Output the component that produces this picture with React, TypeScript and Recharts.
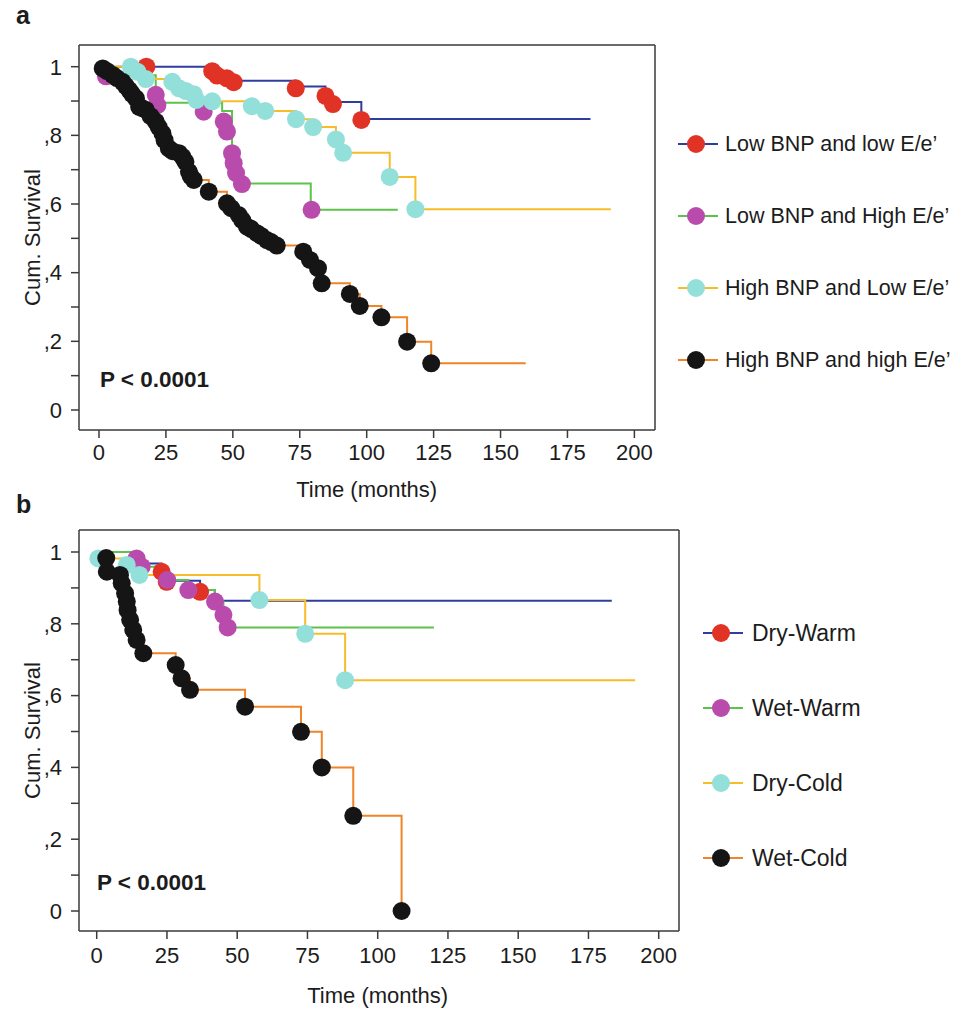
import React from "react";
import { ComposedChart, Legend, Line, Scatter, XAxis, YAxis } from "recharts";

type Pt = [number, number];

const timeTicks = [0, 25, 50, 75, 100, 125, 150, 175, 200];
const survivalTicks = [0, 0.1, 0.2, 0.3, 0.4, 0.5, 0.6, 0.7, 0.8, 0.9, 1];

// ---- panel a: BNP x E/e' ----
const namesA = [
  "Low BNP and low E/e’",
  "Low BNP and High E/e’",
  "High BNP and Low E/e’",
  "High BNP and high E/e’",
];

const lowLowSteps: Pt[] = [
  [0, 1], [42.3, 0.987], [44.1, 0.974], [47.8, 0.968], [50.3, 0.959], [73.5, 0.942],
  [84.6, 0.913], [87.4, 0.897], [98, 0.848], [183.6, 0.848],
];
const lowLowMarks: Pt[] = [
  [17.7, 1.0], [42.3, 0.987], [44.1, 0.974], [47.8, 0.966], [50.3, 0.955],
  [73.5, 0.937], [84.6, 0.915], [87.4, 0.891], [98, 0.845],
];

const lowHighSteps: Pt[] = [
  [0, 1], [2.6, 0.975], [21.2, 0.918], [21.8, 0.895], [46, 0.871], [49.7, 0.748],
  [50.3, 0.717], [51.3, 0.688], [53.4, 0.66], [79.1, 0.583], [111.6, 0.583],
];
const lowHighMarks: Pt[] = [
  [2.6, 0.972], [21.2, 0.918], [21.8, 0.888], [39.1, 0.869], [46.6, 0.84], [47.8, 0.811],
  [49.7, 0.748], [50.3, 0.719], [51.2, 0.69], [53.4, 0.658], [79.4, 0.583],
];

const highLowMarks: Pt[] = [
  [11.9, 1.0], [14.4, 0.985], [17.5, 0.964], [27.4, 0.956], [29.9, 0.937], [32.5, 0.929],
  [35.4, 0.92], [36.4, 0.903], [42.3, 0.899], [57.1, 0.885], [62.1, 0.871], [73.6, 0.847],
  [80, 0.824], [88.5, 0.788], [91.2, 0.749], [108.6, 0.679], [118.2, 0.585],
];
const highLowEnd = 191.2;

const highHighMarks: Pt[] = [
  [1.4, 0.995], [3, 0.987], [5.1, 0.976], [6.7, 0.967], [8.8, 0.956], [10, 0.944],
  [11.3, 0.932], [12.3, 0.921], [13.8, 0.908], [15, 0.883], [16, 0.88], [17.5, 0.874],
  [19.3, 0.856], [21.2, 0.84], [22.3, 0.824], [23.7, 0.806], [24.5, 0.786], [26.1, 0.762],
  [27.5, 0.754], [29.9, 0.748], [31.2, 0.737], [32.3, 0.723], [33.6, 0.694], [34.2, 0.682],
  [35.4, 0.67], [41, 0.636], [47.8, 0.602], [49.4, 0.588], [52.2, 0.568], [53.5, 0.553],
  [55.3, 0.534], [56.9, 0.527], [59, 0.515], [60.6, 0.507], [62.7, 0.495], [64.3, 0.489],
  [66.4, 0.479], [76.3, 0.461], [78.8, 0.437], [81.8, 0.413], [83.2, 0.369], [93.7, 0.338],
  [97.4, 0.303], [105.5, 0.27], [115.1, 0.199], [124.1, 0.136],
];
const highHighEnd = 159.4;

// ---- panel b: clinical profiles ----
const namesB = ["Dry-Warm", "Wet-Warm", "Dry-Cold", "Wet-Cold"];

const dryWarmSteps: Pt[] = [
  [0, 1], [15, 0.968], [23.1, 0.945], [24.9, 0.92], [36.8, 0.894], [42, 0.864], [183.3, 0.864],
];
const dryWarmMarks: Pt[] = [[23.1, 0.945], [24.9, 0.917], [36.8, 0.889]];

const wetWarmMarks: Pt[] = [
  [14.2, 0.982], [16, 0.959], [25.1, 0.922], [32.6, 0.894], [42.1, 0.862], [45.1, 0.825], [46.6, 0.79],
];
const wetWarmEnd = 120;

const dryColdMarks: Pt[] = [
  [0.6, 0.982], [10.7, 0.964], [15.2, 0.936], [57.9, 0.866], [74.2, 0.772], [88.4, 0.643],
];
const dryColdEnd = 191.6;

const wetColdMarks: Pt[] = [
  [3.4, 0.983], [3.6, 0.945], [8.3, 0.936], [8.9, 0.913], [10.1, 0.885], [10.7, 0.862],
  [11, 0.838], [11.9, 0.811], [13, 0.783], [14.2, 0.755], [16.6, 0.718], [28.1, 0.685],
  [30.2, 0.648], [33.2, 0.616], [52.8, 0.569], [72.7, 0.499], [80.1, 0.4], [91.3, 0.265],
  [108.5, 0],
];
const wetColdEnd = 108.5;

const FONT = '"Liberation Sans", Arial, Helvetica, sans-serif';
const INK = "#1c1c1c";
const AXIS = "#3a3a3a";
const TEXT = 22;

const palette = [
  { line: "#2f3e9e", dot: "#e03326" },
  { line: "#5cc24c", dot: "#b94bad" },
  { line: "#f7bd28", dot: "#93dfd9" },
  { line: "#f08429", dot: "#151515" },
];

function stepsFrom(marks: Pt[], end: number): Pt[] {
  return [[0, 1], ...marks, [end, marks[marks.length - 1][1]]];
}

const rows = (pts: Pt[]) => pts.map(([t, s]) => ({ t, s }));

function survivalLabel(v: number) {
  const tenths = Math.round(v * 10);
  if (tenths % 2 !== 0) return "";
  if (tenths === 0) return "0";
  if (tenths === 10) return "1";
  return "," + tenths;
}

type Series = { name: string; steps: Pt[]; marks: Pt[]; line: string; dot: string };

const seriesA: Series[] = [
  { name: namesA[0], steps: lowLowSteps, marks: lowLowMarks, ...palette[0] },
  { name: namesA[1], steps: lowHighSteps, marks: lowHighMarks, ...palette[1] },
  { name: namesA[2], steps: stepsFrom(highLowMarks, highLowEnd), marks: highLowMarks, ...palette[2] },
  { name: namesA[3], steps: stepsFrom(highHighMarks, highHighEnd), marks: highHighMarks, ...palette[3] },
];

const seriesB: Series[] = [
  { name: namesB[0], steps: dryWarmSteps, marks: dryWarmMarks, ...palette[0] },
  { name: namesB[1], steps: stepsFrom(wetWarmMarks, wetWarmEnd), marks: wetWarmMarks, ...palette[1] },
  { name: namesB[2], steps: stepsFrom(dryColdMarks, dryColdEnd), marks: dryColdMarks, ...palette[2] },
  { name: namesB[3], steps: stepsFrom(wetColdMarks, wetColdEnd), marks: wetColdMarks, ...palette[3] },
];

function YTitle({ viewBox, x }: any) {
  const cy = viewBox.y + viewBox.height / 2;
  return (
    <text x={x} y={cy} transform={`rotate(-90 ${x} ${cy})`} textAnchor="middle"
      fontSize={TEXT} fontFamily={FONT} fill={INK}>
      Cum. Survival
    </text>
  );
}

function XTitle({ viewBox, domain, dy }: any) {
  // centred on the 0–200 month range, not on the whole box
  const cx = viewBox.x + ((100 - domain[0]) / (domain[1] - domain[0])) * viewBox.width;
  return (
    <text x={cx} y={viewBox.y + dy} textAnchor="middle" fontSize={TEXT} fontFamily={FONT} fill={INK}>
      Time (months)
    </text>
  );
}

type PanelProps = {
  series: Series[];
  top: number;
  height: number;
  marginTop: number;
  marginRight: number;
  xAxisHeight: number;
  xTickMargin: number;
  titleDy: number;
  xDomain: [number, number];
  yDomain: [number, number];
  legend: { left: number; top: number; row: number; gap: number; fontSize: number; width: number };
};

function KmPanel(p: PanelProps) {
  const line = { stroke: AXIS, strokeWidth: 1.5 };
  const renderLegend = () => (
    <div style={{ fontFamily: FONT, color: INK }}>
      {p.series.map((s) => (
        <div key={s.name} style={{ height: p.legend.row, display: "flex", alignItems: "center" }}>
          <svg width={40} height={20} style={{ flex: "none" }}>
            <line x1={0} x2={40} y1={10} y2={10} stroke={s.line} strokeWidth={2} />
            <circle cx={18} cy={10} r={9} fill={s.dot} />
          </svg>
          <span style={{ marginLeft: p.legend.gap, fontSize: p.legend.fontSize, whiteSpace: "nowrap" }}>
            {s.name}
          </span>
        </div>
      ))}
    </div>
  );

  return (
    <div style={{ position: "absolute", left: 0, top: p.top }}>
      <ComposedChart width={966} height={p.height}
        margin={{ top: p.marginTop, right: p.marginRight, bottom: 0, left: 0 }}>
        <XAxis xAxisId="bottom" dataKey="t" type="number" domain={p.xDomain} allowDataOverflow
          ticks={timeTicks} interval={0} height={p.xAxisHeight} tickSize={8} tickMargin={p.xTickMargin}
          axisLine={line} tickLine={line}
          tick={{ fill: INK, fontSize: TEXT, fontFamily: FONT }}
          label={<XTitle domain={p.xDomain} dy={p.titleDy} />} />
        <XAxis xAxisId="top" orientation="top" type="number" domain={p.xDomain} allowDataOverflow
          ticks={timeTicks} interval={0} height={10} tickSize={8} tick={false}
          axisLine={line} tickLine={line} />
        <YAxis yAxisId="left" dataKey="s" type="number" domain={p.yDomain} allowDataOverflow
          ticks={survivalTicks} interval={0} width={79} tickSize={8} tickMargin={9}
          tickFormatter={survivalLabel} axisLine={line} tickLine={line}
          tick={{ fill: INK, fontSize: TEXT, fontFamily: FONT }}
          label={<YTitle x={25} />} />
        <YAxis yAxisId="right" orientation="right" type="number" domain={p.yDomain} allowDataOverflow
          ticks={survivalTicks} interval={0} width={10} tickSize={8} tick={false}
          axisLine={line} tickLine={line} />
        {p.series.map((s) => (
          <Line key={"l" + s.name} xAxisId="bottom" yAxisId="left" data={rows(s.steps)} dataKey="s"
            type="stepAfter" stroke={s.line} strokeWidth={2} dot={false} activeDot={false}
            legendType="none" isAnimationActive={false} />
        ))}
        {p.series.map((s) => (
          <Scatter key={"m" + s.name} xAxisId="bottom" yAxisId="left" data={rows(s.marks)} dataKey="s"
            fill={s.dot} legendType="none" isAnimationActive={false}
            shape={(d: any) => <circle cx={d.cx} cy={d.cy} r={9} fill={s.dot} />} />
        ))}
        <Legend layout="vertical" align="center" verticalAlign="middle" content={renderLegend}
          wrapperStyle={{ left: p.legend.left, top: p.legend.top, width: p.legend.width }} />
      </ComposedChart>
    </div>
  );
}

export default function App() {
  return (
    <div style={{ position: "relative", width: 966, height: 1009, background: "#fff", overflow: "hidden" }}>
      <style>{"body{margin:0}"}</style>
      <KmPanel series={seriesA} top={0} height={510} marginTop={35} marginRight={301}
        xAxisHeight={80} xTickMargin={6} titleDy={67}
        xDomain={[-7.47, 207.7]} yDomain={[-0.0583, 1.0632]}
        legend={{ left: 678, top: 108, row: 72, gap: 7, fontSize: 21.5, width: 288 }} />
      <KmPanel series={seriesB} top={500} height={509} marginTop={20} marginRight={277}
        xAxisHeight={78} xTickMargin={8} titleDy={72}
        xDomain={[-6.3, 207.22]} yDomain={[-0.0557, 1.0613]}
        legend={{ left: 703, top: 95.5, row: 75, gap: 9, fontSize: 23, width: 263 }} />
      <svg width={966} height={1009} style={{ position: "absolute", left: 0, top: 0, pointerEvents: "none" }}>
        <g fontFamily={FONT} fill={INK} fontWeight="bold">
          <text x={16} y={24} fontSize={25}>a</text>
          <text x={16} y={513} fontSize={25}>b</text>
          <text x={100} y={387} fontSize={22.5}>P &lt; 0.0001</text>
          <text x={97} y={890} fontSize={22.5}>P &lt; 0.0001</text>
        </g>
      </svg>
    </div>
  );
}
